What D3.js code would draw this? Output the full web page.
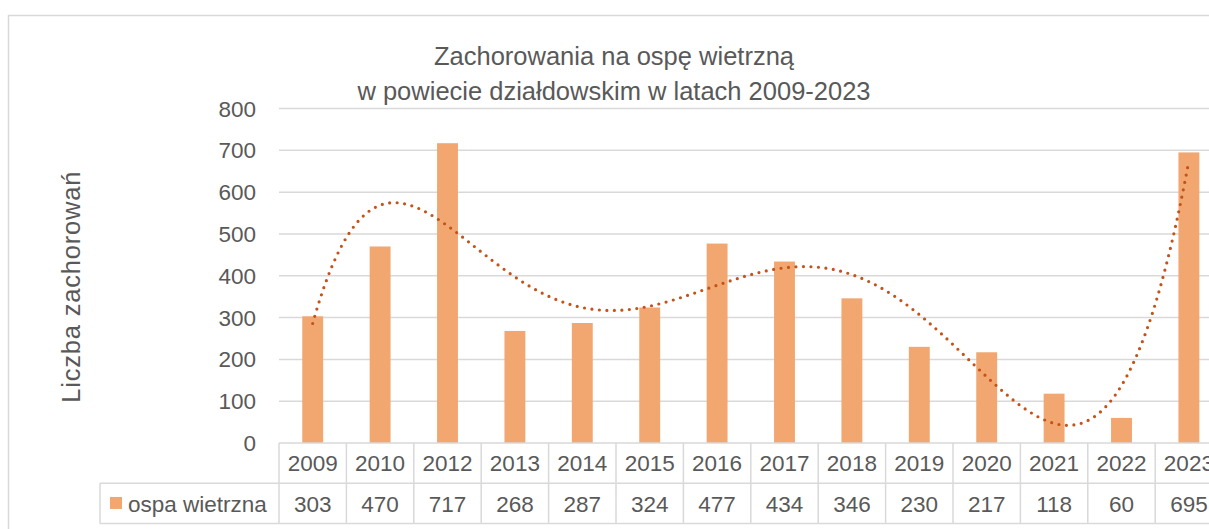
<!DOCTYPE html>
<html>
<head>
<meta charset="utf-8">
<script src="https://cdn.jsdelivr.net/npm/d3@7"></script>
<style>
  body { margin: 0; background: #fff; }
  text { font-family: "Liberation Sans", Arial, sans-serif; fill: #595959; }
</style>
</head>
<body>
<div id="container"></div>
<script>
// ==================== data ==================== //

const years = ["2009", "2010", "2012", "2013", "2014", "2015", "2016", "2017", "2018", "2019", "2020", "2021", "2022", "2023"];
const cases = [303, 470, 717, 268, 287, 324, 477, 434, 346, 230, 217, 118, 60, 695];
const yTicks = [0, 100, 200, 300, 400, 500, 600, 700, 800];
const seriesName = "ospa wietrzna";
const titleLines = ["Zachorowania na ospę wietrzną", "w powiecie działdowskim w latach 2009-2023"];
const yTitle = "Liczba zachorowań";
const trendOrder = 6;

// ==================== layout ==================== //

const width = 1209, height = 529;
const plotLeft = 279, plotRight = 1222.6, plotTop = 108.5, plotBottom = 443;
const rowH = 40.3;
const legendLeft = 100;
const gridColor = "#d9d9d9";
const barColor = "#f2a770";
const trendColor = "#c4531a";

const svg = d3.select("#container")
    .append("svg")
    .attr("width", width)
    .attr("height", height);

// chart border (cut off on the right and bottom like in the source)
svg.append("rect")
    .attr("x", 8.5).attr("y", 15.5)
    .attr("width", 1300).attr("height", 600)
    .attr("fill", "none")
    .attr("stroke", gridColor)
    .attr("stroke-width", 1.5);

const xCat = d3.scaleBand().domain(years).range([plotLeft, plotRight]);
const y = d3.scaleLinear().domain([0, 800]).range([plotBottom, plotTop]);
const barW = xCat.step() * 0.31;

// ==================== gridlines + y axis ==================== //

svg.append("g")
    .selectAll("line")
    .data(yTicks.filter(t => t > 0))
    .join("line")
    .attr("x1", plotLeft).attr("x2", width + 20)
    .attr("y1", d => y(d)).attr("y2", d => y(d))
    .attr("stroke", gridColor)
    .attr("stroke-width", 1.5);

svg.append("g")
    .selectAll("text")
    .data(yTicks)
    .join("text")
    .attr("x", 256)
    .attr("y", d => y(d))
    .attr("dy", "0.36em")
    .attr("text-anchor", "end")
    .style("font-size", "22.5px")
    .text(d => d);

svg.append("text")
    .attr("transform", `translate(80, ${(plotTop + plotBottom) / 2 + 11}) rotate(-90)`)
    .attr("text-anchor", "middle")
    .style("font-size", "25.5px")
    .style("letter-spacing", "0.8px")
    .text(yTitle);

// ==================== title ==================== //

svg.append("g")
    .selectAll("text")
    .data(titleLines)
    .join("text")
    .attr("x", 614)
    .attr("y", (d, i) => 65 + i * 35)
    .attr("text-anchor", "middle")
    .style("font-size", "25.5px")
    .text(d => d);

// ==================== bars ==================== //

svg.append("g")
    .selectAll("rect")
    .data(years)
    .join("rect")
    .attr("x", d => xCat(d) + xCat.bandwidth() / 2 - barW / 2)
    .attr("y", (d, i) => y(cases[i]))
    .attr("width", barW)
    .attr("height", (d, i) => y(0) - y(cases[i]))
    .attr("fill", barColor);

// ==================== polynomial trendline ==================== //

function polyFit(xs, ys, order) {
    // scale x for better conditioning
    const mid = (xs[0] + xs[xs.length - 1]) / 2, half = (xs[xs.length - 1] - xs[0]) / 2;
    const ts = xs.map(v => (v - mid) / half);
    const n = order + 1;
    const A = Array.from({ length: n }, () => new Array(n + 1).fill(0));
    ts.forEach((t, k) => {
        for (let i = 0; i < n; i++) {
            for (let j = 0; j < n; j++) A[i][j] += Math.pow(t, i + j);
            A[i][n] += ys[k] * Math.pow(t, i);
        }
    });
    for (let c = 0; c < n; c++) {
        let p = c;
        for (let r = c + 1; r < n; r++) if (Math.abs(A[r][c]) > Math.abs(A[p][c])) p = r;
        [A[c], A[p]] = [A[p], A[c]];
        for (let r = 0; r < n; r++) {
            if (r === c) continue;
            const f = A[r][c] / A[c][c];
            for (let j = c; j <= n; j++) A[r][j] -= f * A[c][j];
        }
    }
    const coef = A.map((row, i) => row[n] / row[i]);
    return v => {
        const t = (v - mid) / half;
        return coef.reduce((s, c, i) => s + c * Math.pow(t, i), 0);
    };
}

const idx = years.map((d, i) => i + 1);
const trend = polyFit(idx, cases, trendOrder);
const xIdx = d3.scaleLinear()
    .domain([1, years.length])
    .range([xCat(years[0]) + xCat.bandwidth() / 2, xCat(years[years.length - 1]) + xCat.bandwidth() / 2]);
const trendPts = d3.range(1, years.length + 0.001, 0.02).map(v => [xIdx(v), y(trend(v))]);

svg.append("path")
    .attr("d", d3.line()(trendPts))
    .attr("fill", "none")
    .attr("stroke", trendColor)
    .attr("stroke-width", 3.2)
    .attr("stroke-linecap", "round")
    .attr("stroke-dasharray", "0 7.5");

// ==================== data table ==================== //

const table = svg.append("g");
const rowTop = plotBottom, rowMid = plotBottom + rowH, rowBot = plotBottom + 2 * rowH;

table.append("line")
    .attr("x1", plotLeft).attr("x2", width + 20)
    .attr("y1", rowTop).attr("y2", rowTop);
table.append("line")
    .attr("x1", legendLeft).attr("x2", width + 20)
    .attr("y1", rowMid).attr("y2", rowMid);
table.append("line")
    .attr("x1", legendLeft).attr("x2", width + 20)
    .attr("y1", rowBot).attr("y2", rowBot);
table.append("line")
    .attr("x1", legendLeft).attr("x2", legendLeft)
    .attr("y1", rowMid).attr("y2", rowBot);
table.selectAll(".vline")
    .data(years.concat(["end"]))
    .join("line")
    .attr("class", "vline")
    .attr("x1", (d, i) => plotLeft + i * xCat.step())
    .attr("x2", (d, i) => plotLeft + i * xCat.step())
    .attr("y1", rowTop).attr("y2", rowBot);
table.selectAll("line")
    .attr("stroke", gridColor)
    .attr("stroke-width", 1.5);

table.selectAll(".year")
    .data(years)
    .join("text")
    .attr("class", "year")
    .attr("x", d => xCat(d) + xCat.bandwidth() / 2)
    .attr("y", rowTop + rowH / 2)
    .attr("dy", "0.36em")
    .attr("text-anchor", "middle")
    .style("font-size", "22.5px")
    .text(d => d);

table.selectAll(".val")
    .data(cases)
    .join("text")
    .attr("class", "val")
    .attr("x", (d, i) => xCat(years[i]) + xCat.bandwidth() / 2)
    .attr("y", rowMid + rowH / 2)
    .attr("dy", "0.36em")
    .attr("text-anchor", "middle")
    .style("font-size", "22.5px")
    .text(d => d);

table.append("rect")
    .attr("x", 110).attr("y", rowMid + rowH / 2 - 6.5)
    .attr("width", 12).attr("height", 12)
    .attr("fill", barColor);
table.append("text")
    .attr("x", 128)
    .attr("y", rowMid + rowH / 2)
    .attr("dy", "0.36em")
    .style("font-size", "22.5px")
    .text(seriesName);
</script>
</body>
</html>
